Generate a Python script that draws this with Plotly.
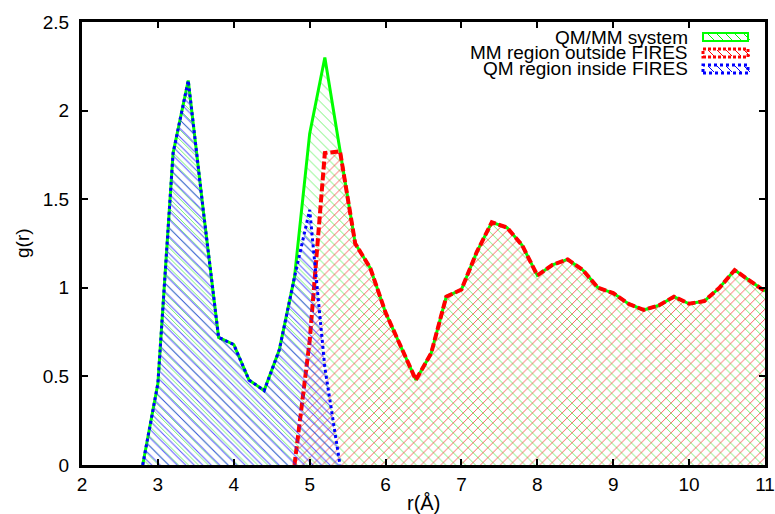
import plotly.graph_objects as go

# ---- data ----
r_system = [2.8, 3.0, 3.2, 3.4, 3.6, 3.8, 4.0, 4.2, 4.4, 4.6, 4.8, 5.0, 5.2, 5.4,
            5.6, 5.8, 6.0, 6.2, 6.4, 6.6, 6.8, 7.0, 7.2, 7.4, 7.6, 7.8, 8.0,
            8.2, 8.4, 8.6, 8.8, 9.0, 9.2, 9.4, 9.6, 9.8, 10.0, 10.2, 10.4,
            10.6, 10.8, 11.0]
g_system = [0.0, 0.46, 1.76, 2.17, 1.43, 0.72, 0.68, 0.48, 0.42, 0.65, 1.06, 1.87, 2.30, 1.77,
            1.25, 1.11, 0.86, 0.67, 0.48, 0.63, 0.95, 0.99, 1.20, 1.37, 1.34, 1.24, 1.07,
            1.13, 1.16, 1.10, 1.00, 0.97, 0.91, 0.875, 0.90, 0.95, 0.91, 0.925, 1.00,
            1.10, 1.04, 0.98]

r_mm_out = [4.8, 5.0, 5.2, 5.4, 5.6, 5.8, 6.0, 6.2, 6.4, 6.6, 6.8, 7.0, 7.2, 7.4, 7.6,
            7.8, 8.0, 8.2, 8.4, 8.6, 8.8, 9.0, 9.2, 9.4, 9.6, 9.8, 10.0, 10.2, 10.4,
            10.6, 10.8, 11.0]
g_mm_out = [0.0, 0.70, 1.76, 1.77, 1.25, 1.11, 0.86, 0.67, 0.48, 0.63, 0.95, 0.99, 1.20, 1.37, 1.34,
            1.24, 1.07, 1.13, 1.16, 1.10, 1.00, 0.97, 0.91, 0.875, 0.90, 0.95, 0.91, 0.925, 1.00,
            1.10, 1.04, 0.98]

r_qm_in = [2.8, 3.0, 3.2, 3.4, 3.6, 3.8, 4.0, 4.2, 4.4, 4.6, 4.8, 5.0, 5.2, 5.4]
g_qm_in = [0.0, 0.46, 1.76, 2.17, 1.43, 0.72, 0.68, 0.48, 0.42, 0.65, 1.06, 1.44, 0.55, 0.0]

series_names = ["QM/MM system", "MM region outside FIRES", "QM region inside FIRES"]
x_ticks = [2, 3, 4, 5, 6, 7, 8, 9, 10, 11]
y_ticks = [0, 0.5, 1, 1.5, 2, 2.5]
y_tick_text = ["0", "0.5", "1", "1.5", "2", "2.5"]
x_title = "r(Å)"
y_title = "g(r)"

GREEN, RED, BLUE = "#00ff00", "#ff0000", "#0000ff"
CLEAR = "rgba(0,0,0,0)"
FONT = "Liberation Sans, Arial, sans-serif"

fig = go.Figure()
fig.add_trace(go.Scatter(
    x=r_system, y=g_system, name=series_names[0], mode="lines",
    line=dict(color=GREEN, width=3),
    fill="tozeroy", fillcolor=CLEAR,
    fillpattern=dict(shape="\\", fgcolor="rgba(0,235,0,0.55)", bgcolor=CLEAR,
                     fillmode="replace", size=7, solidity=0.14),
    showlegend=False))
fig.add_trace(go.Scatter(
    x=r_mm_out, y=g_mm_out, name=series_names[1], mode="lines",
    line=dict(color=RED, width=4, dash="8px,3px"),
    fill="tozeroy", fillcolor=CLEAR,
    fillpattern=dict(shape="/", fgcolor="rgba(255,30,30,0.7)", bgcolor=CLEAR,
                     fillmode="replace", size=7, solidity=0.14),
    showlegend=False))
fig.add_trace(go.Scatter(
    x=r_qm_in, y=g_qm_in, name=series_names[2], mode="lines",
    line=dict(color=BLUE, width=3, dash="3px,3px"),
    fill="tozeroy", fillcolor=CLEAR,
    fillpattern=dict(shape="\\", fgcolor="rgba(30,30,255,0.75)", bgcolor=CLEAR,
                     fillmode="replace", size=6, solidity=0.17),
    showlegend=False))

# ---- gnuplot-style key: text on the left, sample on the right ----
L, R_, T, B = 82, 765, 22, 465
def px(xp):
    return (xp - L) / (R_ - L)
def py(yp):
    return (B - yp) / (B - T)

key_rows = [(37, GREEN, "solid", 2), (53, RED, "3px,2px", 3), (69, BLUE, "dot", 3)]
for name, (yc, col, dash, w) in zip(series_names, key_rows):
    fig.add_annotation(x=px(690), y=py(yc), xref="paper", yref="paper",
                       text=name, showarrow=False, xanchor="right", yanchor="middle",
                       font=dict(family=FONT, size=19, color="black"))
    fig.add_shape(type="rect", xref="paper", yref="paper",
                  x0=px(703), x1=px(748), y0=py(yc + 4), y1=py(yc - 4),
                  line=dict(color=col, width=w, dash=dash), fillcolor=CLEAR)
    for k in range(5):
        x0 = 708 + k * 9
        fig.add_shape(type="line", xref="paper", yref="paper",
                      x0=px(x0), x1=px(x0 + 6), y0=py(yc - 3), y1=py(yc + 3),
                      line=dict(color=col, width=1))

# axis titles placed like gnuplot does
fig.add_annotation(x=px(423), y=py(503), xref="paper", yref="paper", text=x_title,
                   showarrow=False, xanchor="center", yanchor="middle",
                   font=dict(family=FONT, size=20, color="black"))
fig.add_annotation(x=px(22), y=py(243), xref="paper", yref="paper", text=y_title,
                   showarrow=False, xanchor="center", yanchor="middle", textangle=-90,
                   font=dict(family=FONT, size=19, color="black"))

axis_common = dict(showgrid=False, zeroline=False, showline=True, linecolor="black",
                   linewidth=3, mirror="ticks", ticks="inside", ticklen=6, tickwidth=2,
                   tickcolor="black", automargin=False,
                   tickfont=dict(family=FONT, size=19, color="black"))
fig.update_xaxes(range=[2, 11], tickvals=x_ticks, ticktext=[str(v) for v in x_ticks],
                 **axis_common)
fig.update_yaxes(range=[0, 2.5], tickvals=y_ticks, ticktext=y_tick_text,
                 ticklabelstandoff=6, **axis_common)

fig.update_layout(width=775, height=514, paper_bgcolor="white", plot_bgcolor="white",
                  margin=dict(l=82, r=10, t=22, b=49), showlegend=False,
                  font=dict(family=FONT, color="black"))

fig.write_html("out.html", config={"displayModeBar": False},
               post_script="document.body.style.margin='0';document.body.style.overflow='hidden';")
